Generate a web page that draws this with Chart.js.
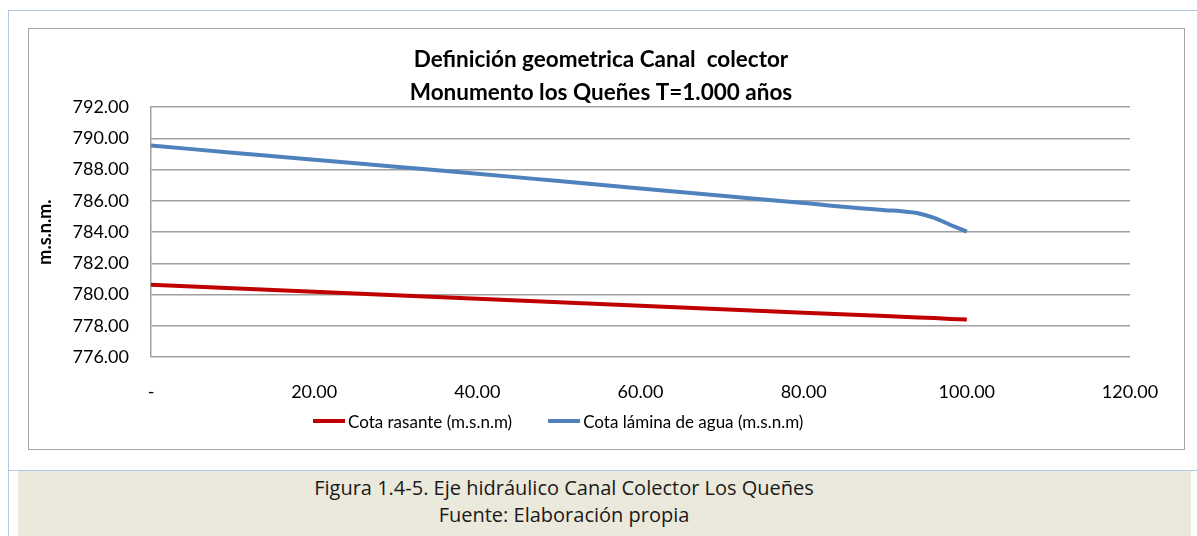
<!DOCTYPE html>
<html>
<head>
<meta charset="utf-8">
<script src="https://cdn.jsdelivr.net/npm/chart.js@4.4.1/dist/chart.umd.min.js"></script>
<style>
  body { margin: 0; background: #fff; width: 1197px; height: 536px; position: relative; overflow: hidden; }
  .blueLeft { position: absolute; left: 8px; top: 10px; width: 1px; height: 526px; background: #b4c7e0; }
  .blueTop { position: absolute; left: 8px; top: 10px; width: 1189px; height: 1px; background: #b4c7e0; }
  .blueMid { position: absolute; left: 8px; top: 470px; width: 1189px; height: 1px; background: #b4c7e0; }
  .frame { position: absolute; left: 28px; top: 28px; width: 1155px; height: 420px; border: 1px solid #a6a6a6; }
  .frame canvas { display: block; }
  #legend { position: absolute; left: 313px; top: 409px; height: 24px; display: flex; align-items: center;
            font-family: Lato, sans-serif; font-size: 17px; color: #000; }
  #legend .item { display: flex; align-items: center; margin-right: 36px; }
  #legend .swatch { width: 32px; height: 4px; margin-right: 3px; }
  .caption { position: absolute; left: 18px; top: 471px; width: 1173px; height: 65px; background: #ebe8dc; }
  .caption div { position: absolute; left: 46px; width: 1000px; text-align: center;
                 font-family: "Open Sans", sans-serif; font-size: 20px; color: #1a1a1a; line-height: 27px; }
</style>
</head>
<body>
<div class="blueLeft"></div>
<div class="blueTop"></div>
<div class="blueMid"></div>
<div class="frame">
  <div style="position:relative;width:1155px;height:420px;"><canvas id="chart"></canvas></div>
</div>
<div id="legend"></div>
<div class="caption">
  <div style="top:3px;">Figura 1.4-5. Eje hidráulico Canal Colector Los Queñes</div>
  <div style="top:30px;">Fuente: Elaboración propia</div>
</div>
<script>
// distancia (m) a lo largo del canal
const stations = [0, 10, 20, 30, 40, 50, 60, 70, 80, 90, 92, 94, 96, 98, 100];
const cotaRasante = [780.63, 780.40, 780.18, 779.95, 779.73, 779.50, 779.28, 779.06, 778.84, 778.62, 778.58, 778.53, 778.49, 778.44, 778.40];
const cotaLamina = [789.53, 789.08, 788.63, 788.18, 787.73, 787.26, 786.79, 786.32, 785.85, 785.40, 785.33, 785.20, 784.90, 784.45, 784.02];

const seriesNames = ['Cota rasante (m.s.n.m)', 'Cota lámina de agua (m.s.n.m)'];
const seriesColors = ['#c00000', '#4f81bd'];
const titleLines = ['Definición geometrica Canal  colector', 'Monumento los Queñes T=1.000 años'];
const xTickLabels = ['-', '20.00', '40.00', '60.00', '80.00', '100.00', '120.00'];
const yTickLabels = ['776.00', '778.00', '780.00', '782.00', '784.00', '786.00', '788.00', '790.00', '792.00'];

function toPoints(values) {
  return stations.map((x, i) => ({ x: x, y: values[i] }));
}

// legend drawn as html so it can sit where excel put it
const legendEl = document.getElementById('legend');
seriesNames.forEach((name, i) => {
  const item = document.createElement('div');
  item.className = 'item';
  const sw = document.createElement('span');
  sw.className = 'swatch';
  sw.style.background = seriesColors[i];
  const txt = document.createElement('span');
  txt.textContent = name;
  item.appendChild(sw);
  item.appendChild(txt);
  legendEl.appendChild(item);
});

const ctx = document.getElementById('chart').getContext('2d');
new Chart(ctx, {
  type: 'line',
  data: {
    datasets: [{
      label: seriesNames[0],
      data: toPoints(cotaRasante),
      borderColor: seriesColors[0],
      borderWidth: 4,
      pointRadius: 0,
      tension: 0
    }, {
      label: seriesNames[1],
      data: toPoints(cotaLamina),
      borderColor: seriesColors[1],
      borderWidth: 4,
      pointRadius: 0,
      cubicInterpolationMode: 'monotone'
    }]
  },
  options: {
    responsive: true,
    maintainAspectRatio: false,
    animation: false,
    layout: { padding: { left: 0, right: 11, top: 0, bottom: 0 } },
    plugins: {
      legend: { display: false },
      tooltip: { enabled: false },
      title: {
        display: true,
        text: titleLines,
        color: '#000',
        font: { family: 'Lato', size: 22.5, weight: 'bold', lineHeight: 1.467 },
        padding: { top: 14, bottom: -2 }
      }
    },
    scales: {
      x: {
        type: 'linear',
        min: 0,
        max: 120,
        grid: { display: false },
        border: { display: false },
        ticks: {
          stepSize: 20,
          padding: 16,
          color: '#000',
          font: { family: 'Lato', size: 18 },
          maxRotation: 0,
          callback: (v, i) => xTickLabels[i]
        },
        afterFit: (scale) => {
          scale.height = 92;
          scale.paddingRight = 54;
        }
      },
      y: {
        min: 776,
        max: 792,
        grid: { color: '#a0a0a0', lineWidth: 1.5, drawTicks: false },
        border: { display: true, color: '#a0a0a0', width: 1.5 },
        ticks: {
          stepSize: 2,
          padding: 22,
          color: '#000',
          font: { family: 'Lato', size: 18 },
          callback: (v, i) => yTickLabels[i]
        },
        title: {
          display: true,
          text: 'm.s.n.m.',
          color: '#000',
          font: { family: 'Lato', size: 18, weight: 'bold' },
          padding: { top: 5, bottom: 0 }
        },
        afterFit: (scale) => {
          scale.width = 122;
        }
      }
    }
  }
});
</script>
</body>
</html>
